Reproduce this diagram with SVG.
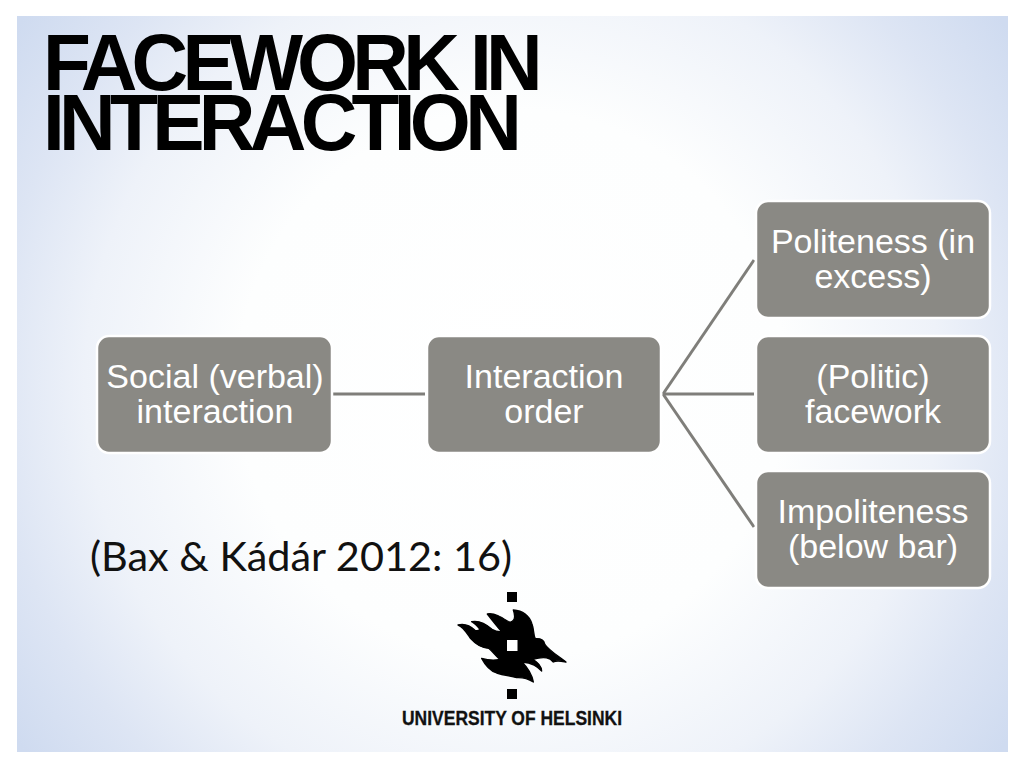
<svg xmlns="http://www.w3.org/2000/svg" width="1024" height="768" viewBox="0 0 1024 768">
<style>
.box{fill:#8a8984;stroke:#fff;stroke-width:2.5}
.lbl{font-family:"Liberation Sans",Arial,sans-serif;font-size:34px;fill:#fff;text-anchor:middle}
.ttl{font-family:"Liberation Sans",Arial,sans-serif;font-weight:bold;font-size:80px;fill:#000}
.con{stroke:#7f7e7a;stroke-width:3;fill:none}
</style>
<defs>
<radialGradient id="bg" gradientUnits="userSpaceOnUse" cx="512" cy="384" r="610">
<stop offset="0" stop-color="#fff"/>
<stop offset="0.45" stop-color="#fdfefe"/>
<stop offset="0.7" stop-color="#eef2f9"/>
<stop offset="0.85" stop-color="#dde5f4"/>
<stop offset="1" stop-color="#cfdbf0"/>
</radialGradient>
</defs>
<rect width="1024" height="768" fill="#fff"/>
<rect id="panel" x="17" y="16" width="991" height="736" fill="url(#bg)"/>
<g id="title">
<text class="ttl" transform="translate(43 90) scale(.98 1)" letter-spacing="-5.9">FACEWORK IN</text>
<text class="ttl" transform="translate(43 150) scale(.98 1)" letter-spacing="-5.8">INTERACTION</text>
</g>
<g id="connectors">
<line class="con" x1="333" y1="394" x2="425" y2="394"/>
<line class="con" x1="663" y1="394" x2="754" y2="260"/>
<line class="con" x1="663" y1="394" x2="754" y2="394"/>
<line class="con" x1="663" y1="394" x2="754" y2="527"/>
</g>
<g id="node-social"><rect class="box" x="97" y="336" width="235" height="117" rx="12"/><text class="lbl" x="215" y="388">Social (verbal)</text><text class="lbl" x="215" y="423">interaction</text></g>
<g id="node-order"><rect class="box" x="427" y="336" width="234" height="117" rx="12"/><text class="lbl" x="544" y="388">Interaction</text><text class="lbl" x="544" y="423">order</text></g>
<g id="node-politeness"><rect class="box" x="756" y="201" width="234" height="117" rx="12"/><text class="lbl" x="873" y="253">Politeness (in</text><text class="lbl" x="873" y="288">excess)</text></g>
<g id="node-politic"><rect class="box" x="756" y="336" width="234" height="117" rx="12"/><text class="lbl" x="873" y="388">(Politic)</text><text class="lbl" x="873" y="423">facework</text></g>
<g id="node-impoliteness"><rect class="box" x="756" y="471" width="234" height="117" rx="12"/><text class="lbl" x="873" y="523">Impoliteness</text><text class="lbl" x="873" y="558">(below bar)</text></g>
<text id="citation" x="90" y="571" font-family="Lato,'Open Sans',sans-serif" font-size="40" fill="#111" textLength="422" lengthAdjust="spacingAndGlyphs">(Bax &amp; Kádár 2012: 16)</text>
<g id="logo">
<rect x="507" y="592" width="10" height="10" fill="#000"/>
<rect x="507" y="689" width="10" height="10" fill="#000"/>
<path transform="translate(380 580) scale(.3333)" fill="#000" stroke="#000" stroke-width="4" stroke-linejoin="round" d="M400 90C428 92 448 108 456 132C463 150 460 168 466 176C482 175 492 180 494 192C505 210 532 226 558 246C542 243 530 240 520 246C510 234 496 228 458 238C472 246 484 256 485 273C472 260 458 248 426 246C442 262 456 284 460 306C444 296 428 292 410 293C392 288 372 286 350 279C330 272 316 256 305 235C322 240 342 242 360 238C348 230 342 218 326 205C308 204 290 196 272 176C258 155 250 140 234 135C252 131 270 136 285 151C292 154 297 151 300 148C292 138 285 130 275 125C296 121 316 130 336 148C346 154 356 156 365 155C352 140 336 120 322 102C345 98 365 112 385 125C398 130 410 118 400 90Z"/>
<rect x="507" y="640" width="10.500" height="11" fill="#fff"/>
<text x="402" y="725" font-family="'Liberation Sans',Arial,sans-serif" font-weight="bold" font-size="19.500" fill="#111" stroke="#111" stroke-width=".3" textLength="220" lengthAdjust="spacingAndGlyphs">UNIVERSITY OF HELSINKI</text>
</g>
</svg>
